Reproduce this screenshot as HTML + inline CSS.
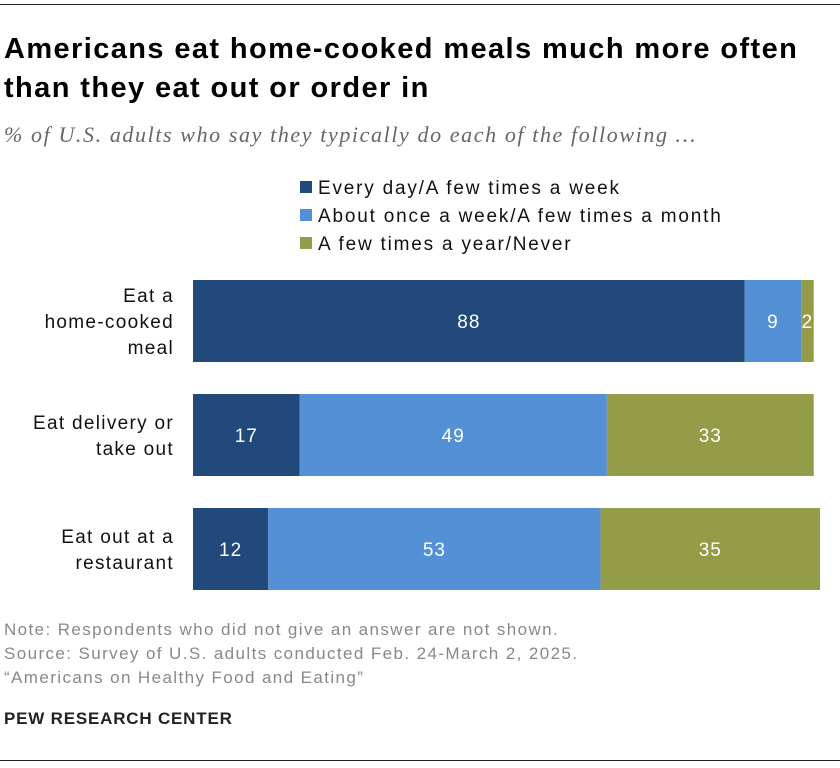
<!DOCTYPE html>
<html><head><meta charset="utf-8"><style>
body{margin:0;background:#fff;width:840px;height:768px;position:relative;font-family:"Liberation Sans",sans-serif;overflow:hidden}
.t{position:absolute;white-space:nowrap}
</style></head><body>
<div class="t" style="left:0;top:4px;width:840px;height:1px;background:#222"></div>
<div class="t" style="left:4px;top:30px;font-size:29px;font-weight:bold;line-height:39px;color:#000;letter-spacing:1.4px">Americans eat home-cooked meals much more often<br>than they eat out or order in</div>
<div class="t" style="left:4px;top:122px;font-family:'Liberation Serif',serif;font-style:italic;font-size:22px;color:#666;letter-spacing:1.6px">% of U.S. adults who say they typically do each of the following …</div>
<svg width="840" height="768" style="position:absolute;left:0;top:0" id="svg"></svg>
<div class="t" style="left:4px;top:618px;font-size:17px;color:#888;line-height:24px;letter-spacing:1.4px">Note: Respondents who did not give an answer are not shown.<br>Source: Survey of U.S. adults conducted Feb. 24-March 2, 2025.<br>“Americans on Healthy Food and Eating”</div>
<div class="t" style="left:4px;top:709px;font-size:17px;font-weight:bold;color:#222;letter-spacing:0.8px">PEW RESEARCH CENTER</div>
<div class="t" style="left:0;top:760px;width:840px;height:1px;background:#222"></div>
<script>
const categories=[["Eat a","home-cooked","meal"],["Eat delivery or","take out"],["Eat out at a","restaurant"]];
const seriesNames=["Every day/A few times a week","About once a week/A few times a month","A few times a year/Never"];
const frequent=[88,17,12];
const monthly=[9,49,53];
const rarely=[2,33,35];
const colors=["#21497c","#5490d6","#949c48"];
const NS="http://www.w3.org/2000/svg",svg=document.getElementById('svg');
const x0=193,k=6.27;
const xs=v=>v*k;
const rowY=[280,394,508],bh=82;
function mk(tag,a){const e=document.createElementNS(NS,tag);for(const n in a)e.setAttribute(n,a[n]);svg.appendChild(e);return e;}
seriesNames.forEach((s,i)=>{
  const r=mk('rect',{x:300,y:181+i*28,width:12,height:12,fill:colors[i]});
  
  
  const t=mk('text',{x:318,y:194+i*28,'font-size':19,fill:'#111','letter-spacing':1.8});
  t.textContent=s;
  
  
});
const series=[frequent,monthly,rarely];
categories.forEach((c,ri)=>{
  const y=rowY[ri];
  const lines=c.length, lh=26, cy=y+bh/2-(lines-1)*lh/2+7;
  c.forEach((l,li)=>{
    const t=mk('text',{x:174,y:cy+li*lh,'font-size':19,fill:'#111','text-anchor':'end','letter-spacing':1.3});
    t.textContent=l;
    
    
  });
  let acc=0;
  series.forEach((arr,si)=>{
    const v=arr[ri];
    const r=mk('rect',{x:x0+xs(acc),y:y,width:xs(v),height:bh,fill:colors[si]});
    
    
    const t=mk('text',{x:x0+xs(acc+v/2),y:y+bh/2+7,'font-size':19,fill:'#fff','text-anchor':'middle','letter-spacing':1});
    t.textContent=v;
    
    
    acc+=v;
  });
});
</script>
</body></html>
